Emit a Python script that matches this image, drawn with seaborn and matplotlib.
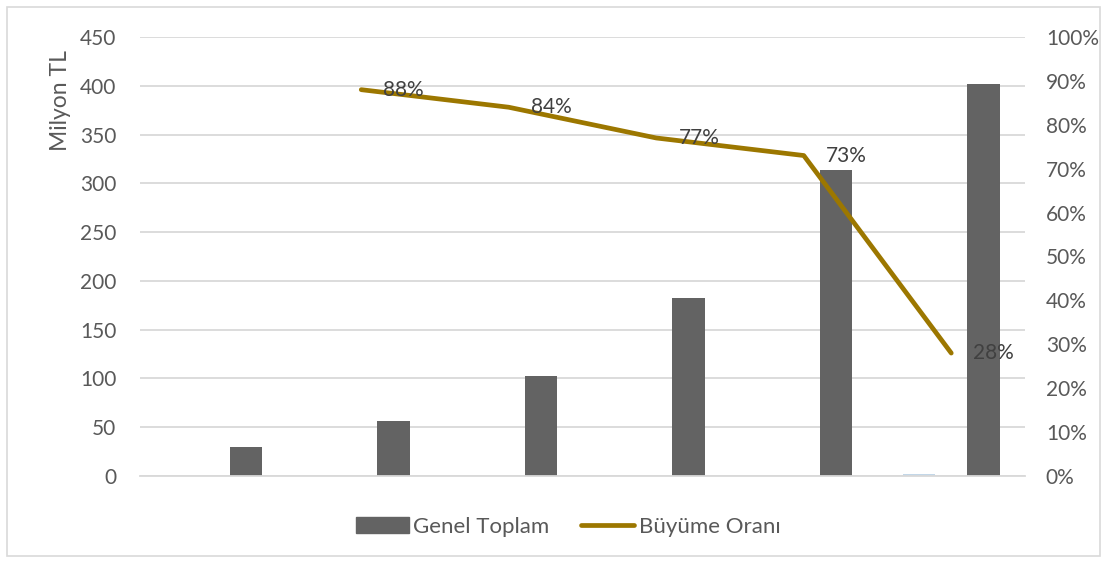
import pandas as pd
import numpy as np
import matplotlib
matplotlib.use("Agg")
import matplotlib.pyplot as plt
import seaborn as sns
from matplotlib.patches import Patch, Rectangle
from matplotlib.lines import Line2D
from matplotlib.ticker import PercentFormatter

# --- data ---
kategoriler = ["1", "2", "3", "4", "5", "6"]
genel_toplam = [30, 56, 102.5, 182.5, 314, 402]
seri_a = [0, 0, 0, 0, 0, 2]     # nearly invisible light-blue series
seri_b = [0, 0, 0, 0, 0, 0]
buyume_kat = ["2", "3", "4", "5", "6"]
buyume_orani = [88, 84, 77, 73, 28]

df = pd.DataFrame({
    "kategori": kategoriler * 3,
    "seri": ["A"] * 6 + ["B"] * 6 + ["Genel Toplam"] * 6,
    "deger": seri_a + seri_b + genel_toplam,
})

# --- style ---
sns.set_style("white")
plt.rcParams["font.family"] = ["Lato", "DejaVu Sans"]
text_col = "#595959"
bar_col = "#636363"
line_col = "#9C7700"
grid_col = "#D9D9D9"
fs = 15

fig = plt.figure(figsize=(11.07, 5.63), dpi=100)
ax = fig.add_axes([140 / 1107, 87 / 563, 885 / 1107, 439 / 563])

sns.barplot(data=df, x="kategori", y="deger", hue="seri",
            hue_order=["A", "B", "Genel Toplam"],
            palette=["#BDD7EE", "#FFFFFF", bar_col],
            width=0.66, linewidth=0, legend=False, ax=ax)
ax.set_xlim(-0.5, 5.5)
ax.set_ylim(0, 450)
ax.set_yticks(np.arange(0, 451, 50))
ax.yaxis.grid(True, color=grid_col, linewidth=1.3)
ax.set_axisbelow(True)
ax.set_xticks([])
ax.set_xlabel("")
ax.set_ylabel("Milyon TL", fontsize=16.5, color=text_col)
ax.yaxis.set_label_coords(-0.078, 0.856)
ax.tick_params(axis="y", length=0, pad=17, labelsize=fs, labelcolor=text_col)
for s in ["top", "left", "right"]:
    ax.spines[s].set_visible(False)
ax.spines["bottom"].set_color(grid_col)
ax.spines["bottom"].set_linewidth(1.3)

# --- growth line on right axis ---
ax2 = ax.twinx()
x_pos = [kategoriler.index(k) for k in buyume_kat]
sns.lineplot(x=x_pos, y=buyume_orani, color=line_col, linewidth=3.4, ax=ax2)
ax2.set_ylim(0, 100)
ax2.set_yticks(np.arange(0, 101, 10))
ax2.yaxis.set_major_formatter(PercentFormatter(decimals=0))
ax2.tick_params(axis="y", length=0, pad=15, labelsize=fs, labelcolor=text_col)
for s in ["top", "left", "right", "bottom"]:
    ax2.spines[s].set_visible(False)
ax2.set_xlim(-0.5, 5.5)

for x, v in zip(x_pos, buyume_orani):
    ax2.annotate(f"{v}%", (x, v), xytext=(16, 0), textcoords="offset points",
                 ha="left", va="center", fontsize=fs, color="#404040")

# --- legend ---
handles = [Patch(color=bar_col, label="Genel Toplam"),
           Line2D([0], [0], color=line_col, linewidth=3.4, label="Büyüme Oranı")]
fig.legend(handles=handles, loc="center", bbox_to_anchor=(568 / 1107, 36 / 563), ncol=2,
           frameon=False, fontsize=16, labelcolor=text_col,
           handlelength=2.4, handletextpad=0.2, columnspacing=1.4)

# chart border
fig.patches.append(Rectangle((7 / 1107, 7 / 563), 1093 / 1107, 549 / 563,
                             transform=fig.transFigure, fill=False,
                             edgecolor=grid_col, linewidth=1.2))

plt.savefig("out.png", dpi=100)
